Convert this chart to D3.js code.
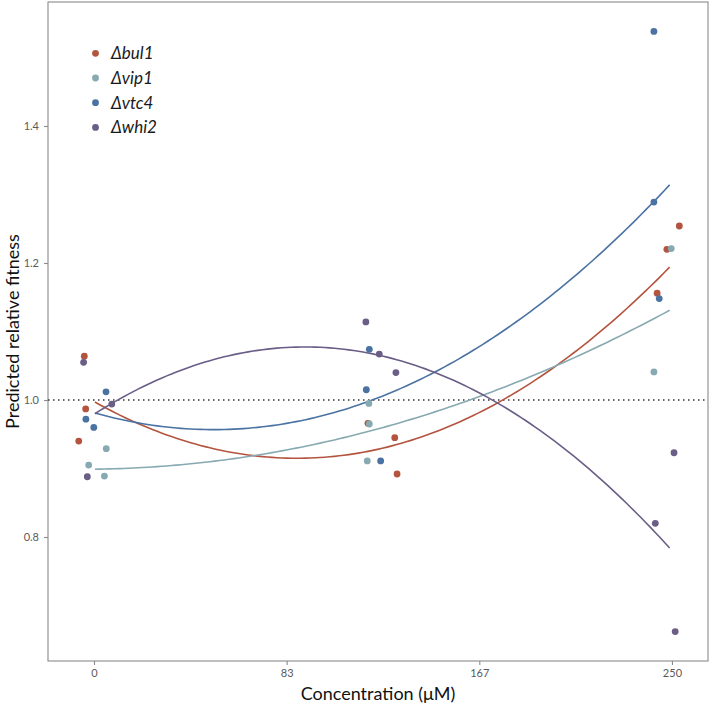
<!DOCTYPE html>
<html><head><meta charset="utf-8">
<script src="https://cdn.jsdelivr.net/npm/d3@7"></script>
<style>body{margin:0;background:#fff}svg{display:block}</style>
</head><body>
<svg id="chart" width="711" height="710"></svg>
<script>
const genotypes = ["Δbul1", "Δvip1", "Δvtc4", "Δwhi2"];
const colors = ["#b4543f", "#87a9b1", "#4a72a2", "#6a5d86"];
const xTicks = [0, 250/3, 500/3, 250];
const xTickLabels = ["0", "83", "167", "250"];
const yTicks = [0.8, 1.0, 1.2, 1.4];

// jittered concentrations and fitness values per genotype
const bul1Conc = [-4.2, -3.6, -6.6, 118.5, 130.1, 131.1, 243.6, 247.8, 253.2];
const bul1Fit  = [1.064, 0.987, 0.940, 0.966, 0.945, 0.892, 1.156, 1.220, 1.254];
const vip1Conc = [5.3, -2.3, 4.5, 118.9, 119.1, 118.2, 249.7, 242.2];
const vip1Fit  = [0.929, 0.905, 0.889, 0.995, 0.965, 0.911, 1.221, 1.041];
const vtc4Conc = [5.2, -3.5, -0.1, 119.1, 117.8, 124.0, 242.2, 242.2, 244.5];
const vtc4Fit  = [1.012, 0.972, 0.960, 1.074, 1.015, 0.911, 1.538, 1.289, 1.148];
const whi2Conc = [-4.5, 7.7, -2.9, 117.6, 123.4, 130.6, 250.9, 242.8, 251.4];
const whi2Fit  = [1.055, 0.994, 0.888, 1.114, 1.067, 1.040, 0.923, 0.820, 0.662];

// fitted quadratic curves: values at three concentrations
const bul1CurveConc = [0.4, 97.75, 249];
const bul1Curve     = [0.997, 0.916, 1.194];
const vip1CurveConc = [0.4, 97.75, 249];
const vip1Curve     = [0.899, 0.937, 1.131];
const vtc4CurveConc = [0.4, 125, 249];
const vtc4Curve     = [0.981, 1.006, 1.314];
const whi2CurveConc = [0.4, 125, 249];
const whi2Curve     = [0.980, 1.064, 0.784];

const concs = [bul1Conc, vip1Conc, vtc4Conc, whi2Conc];
const fits = [bul1Fit, vip1Fit, vtc4Fit, whi2Fit];
const curveConcs = [bul1CurveConc, vip1CurveConc, vtc4CurveConc, whi2CurveConc];
const curves = [bul1Curve, vip1Curve, vtc4Curve, whi2Curve];

const svg = d3.select("#chart");
const L = 48, R = 708, T = 2, B = 661;
const x = d3.scaleLinear().domain([-19.9, 265.6]).range([L, R]);
const y = d3.scaleLinear().domain([0.619, 1.581]).range([B, T]);
const font = "Lato, 'Open Sans', sans-serif";

// panel border
svg.append("rect").attr("x", L).attr("y", T).attr("width", R - L).attr("height", B - T)
  .attr("fill", "none").attr("stroke", "#8a8a8a").attr("stroke-width", 1.1);

// axes
const xAxis = svg.append("g").attr("transform", `translate(0,${B})`)
  .call(d3.axisBottom(x).tickValues(xTicks).tickFormat((d, i) => xTickLabels[i]).tickSize(4).tickPadding(4));
const yAxis = svg.append("g").attr("transform", `translate(${L},0)`)
  .call(d3.axisLeft(y).tickValues(yTicks).tickFormat(d3.format(".1f")).tickSize(4).tickPadding(5));
[xAxis, yAxis].forEach(g => {
  g.select(".domain").remove();
  g.selectAll("line").attr("stroke", "#8a8a8a").attr("stroke-width", 1.1);
  g.selectAll("text").attr("fill", "#5a5a5a").style("font-family", font).style("font-size", "11px");
});

// reference line
svg.append("line").attr("x1", L).attr("x2", R).attr("y1", y(1)).attr("y2", y(1))
  .attr("stroke", "#333").attr("stroke-width", 1.4).attr("stroke-dasharray", "1.5,3.5");

// quadratic through three read curve values
function quad(xs, ys) {
  return t => {
    let s = 0;
    for (let i = 0; i < xs.length; i++) {
      let p = ys[i];
      for (let j = 0; j < xs.length; j++) if (j !== i) p *= (t - xs[j]) / (xs[i] - xs[j]);
      s += p;
    }
    return s;
  };
}
const line = d3.line().x(d => x(d[0])).y(d => y(d[1]));
genotypes.forEach((g, k) => {
  const xs = curveConcs[k];
  const f = quad(xs, curves[k]);
  const lo = xs[0], hi = xs[xs.length - 1];
  const pts = d3.range(0, 121).map(i => { const t = lo + (hi - lo) * i / 120; return [t, f(t)]; });
  svg.append("path").attr("d", line(pts)).attr("fill", "none").attr("stroke", colors[k]).attr("stroke-width", 1.6);
});

// points
genotypes.forEach((g, k) => {
  svg.append("g").selectAll("circle").data(concs[k].map((c, i) => [c, fits[k][i]])).join("circle")
    .attr("cx", d => x(d[0])).attr("cy", d => y(d[1])).attr("r", 3.4).attr("fill", colors[k]);
});

// legend
const lg = svg.append("g");
genotypes.forEach((g, k) => {
  const yy = 53.3 + k * 24.7;
  lg.append("circle").attr("cx", 95.5).attr("cy", yy).attr("r", 3.4).attr("fill", colors[k]);
  lg.append("text").attr("x", 111).attr("y", yy).attr("dy", "0.35em").text(g)
    .style("font-family", font).style("font-style", "italic").style("font-size", "17px").attr("fill", "#1a1a1a");
});

// axis titles
svg.append("text").attr("x", (L + R) / 2).attr("y", 700).attr("text-anchor", "middle")
  .text("Concentration (μM)").style("font-family", font).style("font-size", "18px").attr("fill", "#111");
svg.append("text").attr("transform", `translate(19,${(T + B) / 2}) rotate(-90)`).attr("text-anchor", "middle")
  .text("Predicted relative fitness").style("font-family", font).style("font-size", "18px").attr("fill", "#111");
</script>
</body></html>
